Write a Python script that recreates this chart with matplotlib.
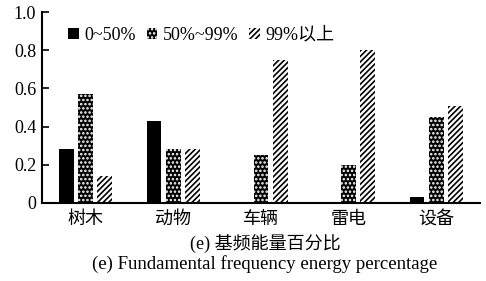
import numpy as np
import matplotlib
matplotlib.use('Agg')
import matplotlib.pyplot as plt

plt.rcParams['font.family'] = ['Liberation Serif', 'Noto Sans CJK SC']
plt.rcParams['hatch.linewidth'] = 1.2

# data
categories = ['树木', '动物', '车辆', '雷电', '设备']
low = [0.28, 0.43, 0.0, 0.0, 0.03]
mid = [0.57, 0.28, 0.25, 0.20, 0.45]
high = [0.14, 0.28, 0.75, 0.80, 0.51]
series_names = ['0~50%', '50%~99%', '99%以上']

fig = plt.figure(figsize=(4.86, 2.81), dpi=100)
ax = fig.add_axes([0.086, 0.278, 0.902, 0.679])

x = np.arange(len(categories))
w = 0.17
off = 0.22
ax.bar(x - off, low, w, color='black', linewidth=0, label=series_names[0])
ax.bar(x, mid, w, facecolor='black', edgecolor='white', hatch='....', linewidth=0, label=series_names[1])
ax.bar(x + off, high, w, facecolor='white', edgecolor='black', hatch='//////', linewidth=0, label=series_names[2])

ax.set_xlim(-0.5, 4.5)
ax.set_ylim(0, 1.0)
ax.set_yticks([0, 0.2, 0.4, 0.6, 0.8, 1.0])
ax.set_yticklabels(['0', '0.2', '0.4', '0.6', '0.8', '1.0'])
ax.set_xticks(x)
ax.set_xticklabels(categories)
ax.tick_params(axis='y', direction='in', length=5, width=1.2, labelsize=13, pad=4)
ax.tick_params(axis='x', length=0, labelsize=13, pad=6)
for s in ['top', 'right']:
    ax.spines[s].set_visible(False)
for s in ['left', 'bottom']:
    ax.spines[s].set_linewidth(1.5)

ax.legend(loc='upper left', bbox_to_anchor=(0.035, 0.98), ncol=3, frameon=False,
          fontsize=13, handlelength=0.6, handleheight=0.6, handletextpad=0.3,
          columnspacing=0.6, borderaxespad=0.2)

fig.text(0.545, 0.135, '(e) 基频能量百分比', ha='center', va='center', fontsize=13)
fig.text(0.545, 0.062, '(e) Fundamental frequency energy percentage', ha='center', va='center', fontsize=13.5)

fig.savefig('out.png', dpi=100)
